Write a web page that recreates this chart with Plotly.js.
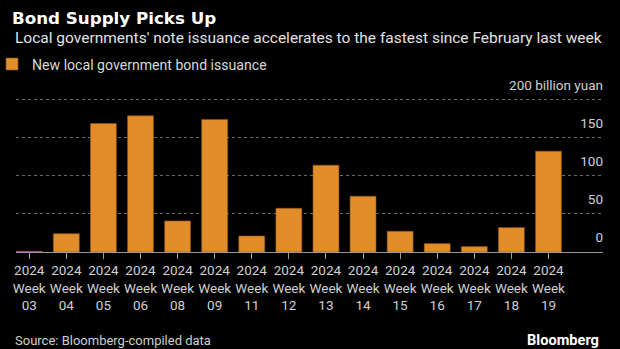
<!DOCTYPE html>
<html>
<head>
<meta charset="utf-8">
<script src="https://cdn.plot.ly/plotly-3.0.1.min.js"></script>
<style>
html,body{margin:0;padding:0;background:#000;}
#chart{width:620px;height:349px;}
</style>
</head>
<body>
<div id="chart"></div>
<script>
// ---- data ----
const years = ["2024","2024","2024","2024","2024","2024","2024","2024","2024","2024","2024","2024","2024","2024","2024"];
const weeks = ["03","04","05","06","08","09","11","12","13","14","15","16","17","18","19"];
const issuance = [1, 24, 168.5, 178.5, 40.7, 173.8, 21, 57.3, 113.8, 73.1, 27.2, 11, 7.1, 32, 132.2];
const seriesName = "New local government bond issuance";
const yTickVals = [0, 50, 100, 150, 200];
const yTickText = ["0", "50", "100", "150", "200 billion yuan"];

const categories = weeks.map((w, i) => years[i] + "<br>Week<br>" + w);

const FONT = "Roboto, 'Liberation Sans', Arial, sans-serif";
const ORANGE = "#E08D2A";

const bars = {
  type: "bar",
  x: categories,
  y: issuance,
  name: seriesName,
  marker: {color: ORANGE, line: {color: "#8a5418", width: 0.6}},
  hoverinfo: "x+y",
  showlegend: true
};
// empty helper trace so the label axis (y2) is drawn
const labelAxisTrace = {
  type: "scatter", mode: "markers",
  x: [], y: [], yaxis: "y2",
  showlegend: false, hoverinfo: "skip"
};

// plot geometry (pixels)
const yMax = 232;
const plotL = 16, plotR = 603.5, plotB = 251.7;
const pxPerUnit = (251.7 - 99.3) / 200;
const plotT = plotB - yMax * pxPerUnit;
const pw = plotR - plotL, ph = plotB - plotT;
const px = x => (x - plotL) / pw;
const py = y => (plotB - y) / ph;

const layout = {
  width: 620,
  height: 349,
  paper_bgcolor: "#000",
  plot_bgcolor: "#000",
  margin: {l: plotL, r: 620 - plotR, t: plotT, b: 349 - plotB, pad: 0, autoexpand: false},
  font: {family: FONT, color: "#cfcfcf"},
  title: {
    text: "<b>Bond Supply Picks Up</b>",
    font: {family: "'DejaVu Sans', sans-serif", size: 16.7, color: "#ffffff"},
    xref: "container", yref: "container",
    x: 12 / 620, xanchor: "left",
    y: 1 - 18 / 349, yanchor: "middle",
    pad: {l: 0, r: 0, t: 0, b: 0}
  },
  bargap: 0.30,
  xaxis: {
    type: "category",
    range: [-0.357, 15.47],
    showgrid: false,
    zeroline: false,
    showline: true,
    linecolor: "#9a9a9a",
    linewidth: 1,
    ticks: "outside",
    ticklen: 6,
    tickwidth: 1,
    tickcolor: "#9a9a9a",
    tickfont: {family: FONT, size: 13.5, color: "#d0d0d0"},
    fixedrange: true
  },
  yaxis: {
    range: [0, yMax],
    side: "right",
    tickvals: yTickVals,
    showticklabels: false,
    showgrid: true,
    gridcolor: "#6a6a6a",
    griddash: "dot",
    gridwidth: 1,
    zeroline: false,
    showline: false,
    ticks: "",
    fixedrange: true
  },
  yaxis2: {
    overlaying: "y",
    anchor: "free",
    position: 1,
    side: "left",
    range: [0, yMax],
    tickvals: yTickVals,
    ticktext: yTickText,
    ticklabelposition: "outside top",
    ticklabelshift: -5,
    showgrid: false,
    zeroline: false,
    showline: false,
    ticks: "",
    tickfont: {family: FONT, size: 13.5, color: "#d0d0d0"},
    fixedrange: true
  },
  showlegend: true,
  legend: {
    orientation: "h",
    xref: "paper", yref: "paper",
    x: px(-8), xanchor: "left",
    y: py(64.3), yanchor: "middle",
    bgcolor: "rgba(0,0,0,0)",
    font: {family: FONT, size: 14.1, color: "#d8d8d8"},
    itemclick: false, itemdoubleclick: false
  },
  annotations: [
    {
      text: "Local governments' note issuance accelerates to the fastest since February last week",
      xref: "paper", yref: "paper",
      x: px(13), xanchor: "left",
      y: py(37.5), yanchor: "middle",
      showarrow: false,
      font: {family: FONT, size: 15.5, color: "#e2e2e2"}
    },
    {
      text: "Source: Bloomberg-compiled data",
      xref: "paper", yref: "paper",
      x: px(13), xanchor: "left",
      y: py(340.5), yanchor: "middle",
      showarrow: false,
      font: {family: FONT, size: 13, color: "#cfcfcf"}
    },
    {
      text: "<b>Bloomberg</b>",
      xref: "paper", yref: "paper",
      x: px(601.5), xanchor: "right",
      y: py(340), yanchor: "middle",
      showarrow: false,
      font: {family: FONT, size: 14.6, color: "#ffffff"}
    }
  ]
};

Plotly.newPlot("chart", [bars, labelAxisTrace], layout, {displayModeBar: false, staticPlot: true});
</script>
</body>
</html>
